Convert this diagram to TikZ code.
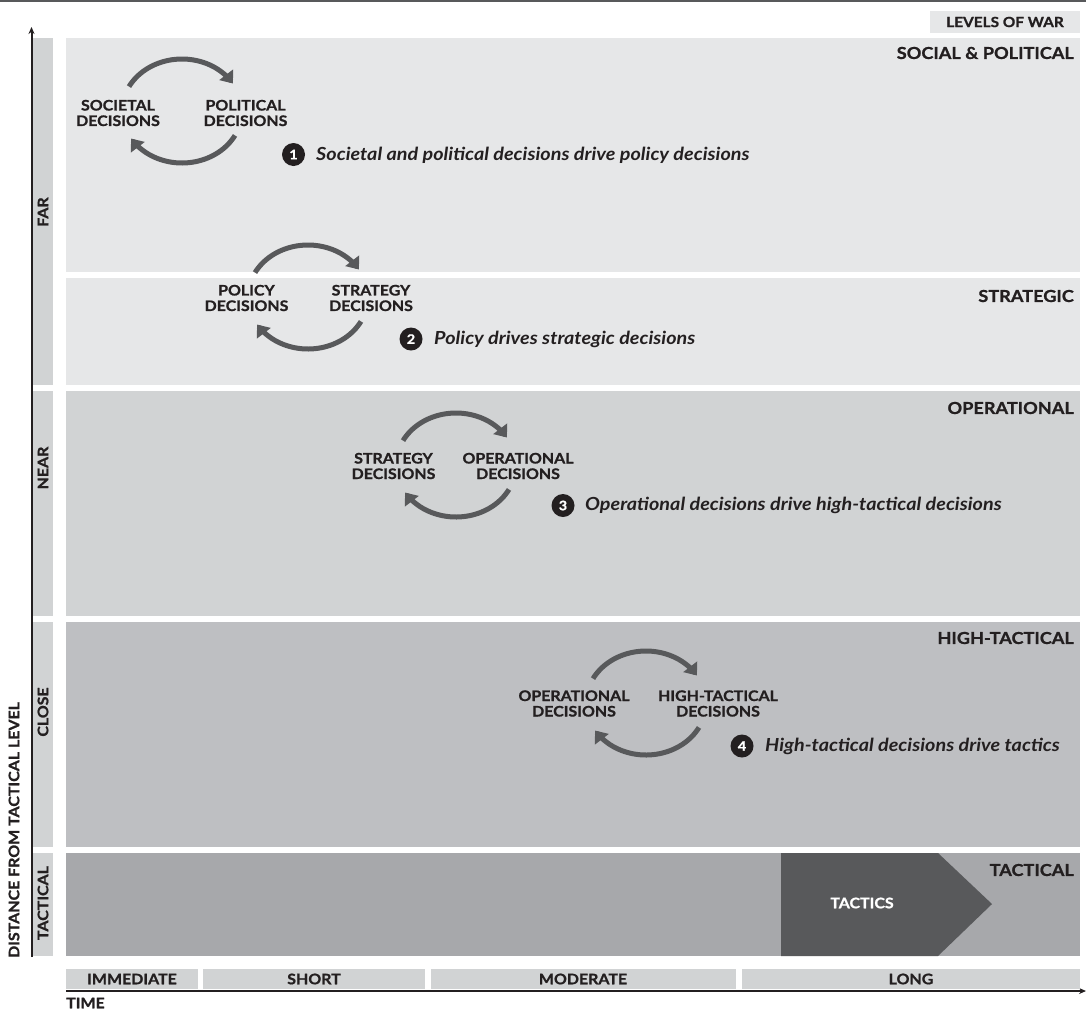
\documentclass[tikz,border=0pt]{standalone}
\usepackage{fontspec}
\setmainfont{Lato}[FakeStretch=1.1, BoldFeatures={FakeBold=1}]
\usetikzlibrary{arrows.meta,calc}
\definecolor{bandA}{HTML}{E6E7E8}
\definecolor{bandB}{HTML}{D1D3D4}
\definecolor{bandC}{HTML}{BEBFC2}
\definecolor{bandD}{HTML}{A7A8AB}
\definecolor{strip}{HTML}{D1D3D4}
\definecolor{dark}{HTML}{58595B}
\definecolor{ink}{HTML}{231F20}
\tikzset{
  lbl/.style={align=center, text=ink, font=\fontsize{14.5}{15.5}\selectfont\bfseries, inner sep=0pt},
  ttl/.style={anchor=east, text=ink, font=\fontsize{16.5}{17}\selectfont\bfseries, inner sep=0pt},
  side/.style={rotate=90, text=ink, font=\fontsize{14.5}{15}\selectfont\bfseries, inner sep=0pt},
  note/.style={anchor=west, text=ink, font=\fontsize{18}{18}\selectfont\bfseries\itshape, inner sep=0pt},
  num/.style={circle, fill=ink, text=white, minimum size=23pt, inner sep=0pt, font=\fontsize{13}{13}\selectfont\bfseries},
  cyc/.style={draw=dark, line width=5pt, -{Triangle[length=11pt,width=17pt]}},
  axisline/.style={draw=ink, line width=2pt, -{Stealth[length=7pt,width=6pt]}},
}
\newcommand{\mycycle}[2]{%
  \draw[cyc] plot[domain=208:328, samples=40] ({#1+60*cos(\x)},{#2+52*sin(\x)});
  \draw[cyc] plot[domain=28:148, samples=40] ({#1+60*cos(\x)},{#2+52*sin(\x)});
}
\begin{document}
\begin{tikzpicture}[x=1pt,y=-1pt]
\useasboundingbox (0,0) rectangle (1086,1010);
\fill[white] (0,0) rectangle (1086,1010);
\fill[dark] (0,0) rectangle (1086,2);
% bands
\fill[bandA] (66,38) rectangle (1080,272);
\fill[bandA] (66,278) rectangle (1080,385);
\fill[bandB] (66,391) rectangle (1080,616);
\fill[bandC] (66,622) rectangle (1080,847);
\fill[bandD] (66,853) rectangle (1080,956);
% side strips
\fill[strip] (33,38) rectangle (53,385);
\fill[strip] (33,391) rectangle (53,616);
\fill[strip] (33,622) rectangle (53,847);
\fill[strip] (33,853) rectangle (53,956);
% levels of war box
\fill[bandA] (930,11) rectangle (1080,33);
\node[lbl, font=\fontsize{14}{14}\selectfont\bfseries] (levels) at (1005,22) {LEVELS OF WAR};
% band titles
\node[ttl] (t1) at (1074,53) {SOCIAL \& POLITICAL};
\node[ttl] (t2) at (1074,296) {STRATEGIC};
\node[ttl] (t3) at (1074,408) {OPERATIONAL};
\node[ttl] (t4) at (1074,638) {HIGH-TACTICAL};
\node[ttl] (t5) at (1074,870) {TACTICAL};
% side labels
\node[side] (far) at (43,212) {FAR};
\node[side] (near) at (43,468) {NEAR};
\node[side] (close) at (43,712) {CLOSE};
\node[side] (tact) at (43,903) {TACTICAL};
\node[side] (dist) at (14,830) {DISTANCE FROM TACTICAL LEVEL};
% axes
\coordinate (vbot) at (31.5,957);
\coordinate (vtop) at (31.5,27);
\draw[axisline] (vbot) -- (vtop);
\coordinate (hleft) at (66,991);
\coordinate (hright) at (1086,991);
\draw[axisline] (hleft) -- (hright);
% time bar
\fill[strip] (66,969) rectangle (198,989);
\fill[strip] (203,969) rectangle (425,989);
\fill[strip] (431,969) rectangle (736,989);
\fill[strip] (742,969) rectangle (1080,989);
\node[lbl] (imm) at (132,979) {IMMEDIATE};
\node[lbl] (short) at (314,979) {SHORT};
\node[lbl] (mod) at (583,979) {MODERATE};
\node[lbl] (long) at (911,979) {LONG};
\node[lbl, anchor=west] (time) at (66,1003) {TIME};
% tactics arrow
\fill[dark] (781,853) -- (938,853) -- (992,904) -- (938,956) -- (781,956) -- cycle;
\node[lbl, text=white] (tactics) at (862,903) {TACTICS};
% cycles
\mycycle{182}{111}
\node[lbl] (soc) at (118,113) {SOCIETAL\\DECISIONS};
\node[lbl] (pol) at (245.5,113) {POLITICAL\\DECISIONS};
\mycycle{308}{297}
\node[lbl] (polc) at (246.5,298) {POLICY\\DECISIONS};
\node[lbl] (str1) at (371,298) {STRATEGY\\DECISIONS};
\mycycle{456}{465}
\node[lbl] (str2) at (393.5,466) {STRATEGY\\DECISIONS};
\node[lbl] (op1) at (518,466) {OPERATIONAL\\DECISIONS};
\mycycle{646}{703}
\node[lbl] (op2) at (574,703.5) {OPERATIONAL\\DECISIONS};
\node[lbl] (ht) at (718,703.5) {HIGH-TACTICAL\\DECISIONS};
% numbered notes
\node[num] (n1) at (293.5,154.5) {1};
\node[note] (d1) at (316,155) {Societal and political decisions drive policy decisions};
\node[num] (n2) at (411,339) {2};
\node[note] (d2) at (434,339) {Policy drives strategic decisions};
\node[num] (n3) at (563,505.5) {3};
\node[note] (d3) at (585,505.5) {Operational decisions drive high-tactical decisions};
\node[num] (n4) at (742,746) {4};
\node[note] (d4) at (765,746) {High-tactical decisions drive tactics};
\end{tikzpicture}
\end{document}
